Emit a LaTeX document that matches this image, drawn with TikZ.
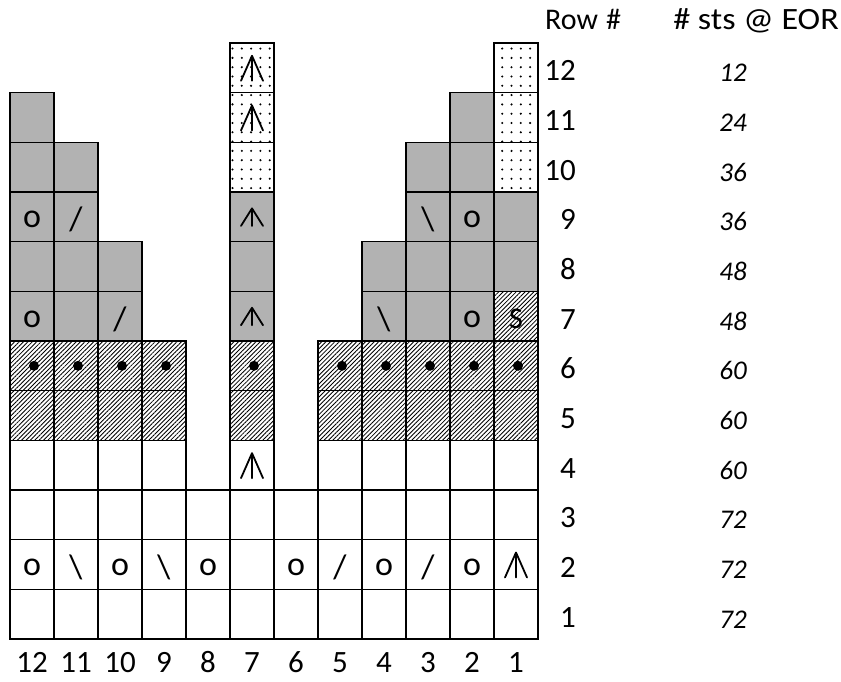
\documentclass[tikz,border=0pt]{standalone}
\usepackage{fontspec}
\setmainfont{Carlito}
\usetikzlibrary{patterns.meta,positioning}

\begin{document}
\begin{tikzpicture}[x=1pt, y=1pt,
  cell/.style={draw, line width=1.3pt, minimum width=44pt, minimum height=49.67pt,
    inner sep=0pt, outer sep=0pt},
  shade/.style={cell, fill=black!30},
  hatch/.style={cell, pattern={Lines[angle=45, distance=3.1pt, line width=0.85pt]}},
  speck/.style={cell, pattern={Dots[distance=9.3pt, radius=1.15pt]}},
  sym/.style={font=\fontsize{34}{40}\selectfont, inner sep=0pt, yshift=-3pt},
  bobble/.style={circle, fill=black, minimum size=10pt, inner sep=0pt},
  rowlab/.style={font=\fontsize{31}{36}\selectfont, inner sep=0pt, anchor=base east},
  count/.style={font=\fontsize{27}{32}\selectfont\itshape, inner sep=0pt, anchor=base},
  head/.style={font=\fontsize{30}{36}\selectfont, inner sep=0pt},
  sktwo/.pic={\draw[line width=1.8pt, line cap=round, line join=round]
    (-11,-13) -- (0,12) -- (11,-13) (0,12) -- (0,-13);}
]
\useasboundingbox (0,0) rectangle (841,681);

% chart cells, column c and row r
\begin{scope}[shift={(560pt,17.17pt)}, x={(-44pt,0pt)}, y={(0pt,49.67pt)}]
  \foreach \r in {1,2,3}
    \foreach \c in {1,...,12}
      \node[cell] (c\c-\r) at (\c,\r) {};
  \foreach \c in {1,2,3,4,5,7,9,10,11,12}
    \node[cell] (c\c-4) at (\c,4) {};
  \foreach \r in {5,6}
    \foreach \c in {1,2,3,4,5,7,9,10,11,12}
      \node[hatch] (c\c-\r) at (\c,\r) {};
  \foreach \c/\r in {12/7,11/7,10/7,7/7,4/7,3/7,2/7,
                     12/8,11/8,10/8,7/8,4/8,3/8,2/8,1/8,
                     12/9,11/9,7/9,3/9,2/9,1/9,
                     12/10,11/10,3/10,2/10,
                     12/11,2/11}
    \node[shade] (c\c-\r) at (\c,\r) {};
  \node[hatch] (c1-7) at (1,7) {};
  \foreach \c/\r in {7/10,7/11,7/12,1/10,1/11,1/12}
    \node[speck] (c\c-\r) at (\c,\r) {};
\end{scope}

% stitch symbols
\foreach \c/\r in {12/2,10/2,8/2,6/2,4/2,2/2,12/7,2/7,12/9,2/9}
  \node[sym] (o\c-\r) at (c\c-\r) {o};
\foreach \c/\r in {5/2,3/2,10/7,11/9}
  \node[sym] (k\c-\r) at (c\c-\r) {/};
\foreach \c/\r in {11/2,9/2,4/7,3/9}
  \node[sym] (p\c-\r) at (c\c-\r) {\textbackslash};
\node[sym, font=\fontsize{30}{36}\selectfont] (s1-7) at (c1-7) {S};
\foreach \c in {1,2,3,4,5,7,9,10,11,12}
  \node[bobble] (d\c) at ([xshift=2pt]c\c-6.center) {};
\foreach \c/\r in {1/2,7/4,7/11,7/12}
  \pic at (c\c-\r) {sktwo};
\foreach \c/\r in {7/7,7/9}
  \pic[yscale=0.7] at (c\c-\r) {sktwo};

% row numbers and stitch counts
\node[head, anchor=base west] (hrow) at (545,651) {Row\hspace{8pt}\#};
\node[head, anchor=base east, font=\fontsize{31}{36}\selectfont, xscale=1.1]
  (hsts) at (839,651) {\# sts @ EOR};
\foreach \r/\n in {1/72,2/72,3/72,4/60,5/60,6/60,7/48,8/48,9/36,10/36,11/24,12/12} {
  \node[rowlab] (r\r) at ([xshift=38pt, yshift=-13pt]c1-\r.east) {\r};
  \node[count] (n\r) at ([xshift=217pt, yshift=-14pt]c1-\r.center) {\n};
}
\foreach \c in {1,...,12}
  \node[rowlab, anchor=base] (b\c) at ([yshift=-34pt]c\c-1.south) {\c};
\end{tikzpicture}
\end{document}
